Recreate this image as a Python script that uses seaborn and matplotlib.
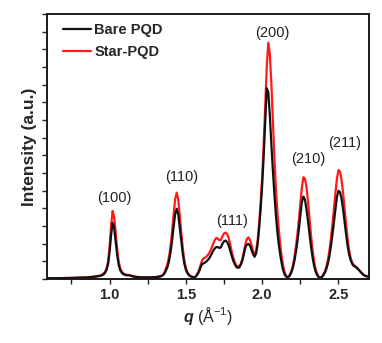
import numpy as np
import pandas as pd
import matplotlib
matplotlib.use("Agg")
import matplotlib.pyplot as plt
from matplotlib.ticker import MultipleLocator, NullFormatter
from matplotlib.lines import Line2D
import seaborn as sns

# ---------------- data ----------------
q = [
    0.59, 0.65, 0.70, 0.75, 0.80, 0.85, 0.88, 0.90, 0.92, 0.94,
    0.95, 0.96, 0.97, 0.98, 0.99, 1.00, 1.01, 1.02, 1.03, 1.04,
    1.05, 1.06, 1.07, 1.08, 1.09, 1.11, 1.13, 1.15, 1.18, 1.22,
    1.26, 1.30, 1.33, 1.35, 1.36, 1.37, 1.38, 1.39, 1.40, 1.41,
    1.42, 1.43, 1.44, 1.45, 1.46, 1.47, 1.48, 1.49, 1.50, 1.51,
    1.52, 1.53, 1.54, 1.55, 1.56, 1.57, 1.58, 1.59, 1.60, 1.61,
    1.62, 1.63, 1.64, 1.65, 1.66, 1.67, 1.68, 1.69, 1.70, 1.71,
    1.72, 1.73, 1.74, 1.75, 1.76, 1.77, 1.78, 1.79, 1.80, 1.81,
    1.82, 1.83, 1.84, 1.85, 1.86, 1.87, 1.88, 1.89, 1.90, 1.91,
    1.92, 1.93, 1.94, 1.95, 1.96, 1.97, 1.98, 1.99, 2.00, 2.01,
    2.02, 2.03, 2.04, 2.05, 2.06, 2.07, 2.08, 2.09, 2.10, 2.11,
    2.12, 2.13, 2.14, 2.15, 2.16, 2.17, 2.18, 2.19, 2.20, 2.21,
    2.22, 2.23, 2.24, 2.25, 2.26, 2.27, 2.28, 2.29, 2.30, 2.31,
    2.32, 2.33, 2.34, 2.35, 2.36, 2.37, 2.38, 2.39, 2.40, 2.41,
    2.42, 2.43, 2.44, 2.45, 2.46, 2.47, 2.48, 2.49, 2.50, 2.51,
    2.52, 2.53, 2.54, 2.55, 2.56, 2.57, 2.58, 2.59, 2.60, 2.61,
    2.62, 2.63, 2.64, 2.65, 2.66, 2.67, 2.68, 2.69, 2.70,
]

star_pqd = [
    0.3, 0.3, 0.35, 0.4, 0.5, 0.6, 0.8, 0.9, 1.1, 1.3,
    1.6, 2.0, 2.7, 4.0, 6.5, 12.0, 20.0, 25.7, 23.5, 17.5,
    11.0, 6.5, 4.0, 2.8, 2.1, 1.6, 1.5, 1.1, 0.8, 0.6,
    0.6, 0.7, 1.0, 1.6, 2.5, 4.0, 5.8, 8.6, 12.5, 18.1,
    24.5, 30.2, 32.6, 30.0, 24.0, 17.5, 11.5, 7.0, 4.2, 2.6,
    1.7, 1.2, 0.9, 0.7, 0.8, 1.5, 2.6, 4.0, 6.0, 7.5,
    7.9, 8.2, 8.8, 9.5, 10.6, 12.0, 13.5, 14.8, 15.5, 15.2,
    14.6, 14.8, 16.2, 17.2, 17.5, 17.0, 15.6, 13.2, 10.5, 8.2,
    6.4, 5.2, 4.6, 4.8, 5.8, 7.6, 10.2, 13.2, 15.2, 15.7,
    14.8, 12.8, 10.6, 9.2, 10.5, 14.5, 21.0, 29.0, 38.5, 51.0,
    66.0, 80.0, 89.2, 85.0, 74.0, 60.0, 46.0, 34.0, 25.0, 18.0,
    12.0, 7.5, 4.2, 2.0, 1.0, 0.8, 1.5, 2.8, 4.8, 7.8,
    11.8, 16.5, 22.0, 28.5, 34.5, 38.4, 37.8, 35.0, 29.5, 23.0,
    16.5, 11.0, 6.8, 3.8, 2.0, 0.9, 0.4, 0.8, 1.6, 2.8,
    4.5, 7.0, 10.5, 15.0, 20.5, 26.5, 32.5, 38.0, 41.1, 40.5,
    37.5, 32.5, 26.5, 20.5, 15.0, 10.8, 7.8, 6.2, 5.3, 4.9,
    4.4, 3.7, 3.0, 2.3, 1.7, 1.3, 1.0, 0.9, 0.8,
]

bare_pqd = [
    0.3, 0.3, 0.35, 0.4, 0.5, 0.55, 0.7, 0.8, 1.0, 1.2,
    1.4, 1.7, 2.3, 3.4, 5.5, 10.0, 16.5, 21.2, 19.3, 14.3,
    9.0, 5.3, 3.3, 2.4, 1.8, 1.4, 1.4, 1.0, 0.7, 0.6,
    0.6, 0.7, 0.9, 1.4, 2.1, 3.3, 4.6, 6.9, 10.2, 14.7,
    19.9, 24.5, 26.5, 24.4, 19.5, 14.3, 9.4, 5.8, 3.5, 2.2,
    1.4, 1.0, 0.8, 0.6, 0.7, 1.2, 2.1, 3.3, 5.0, 5.8,
    6.0, 6.4, 6.9, 7.6, 8.5, 9.6, 10.8, 11.6, 12.1, 12.0,
    11.7, 12.0, 13.4, 14.2, 14.5, 14.0, 12.8, 10.8, 8.8, 7.0,
    5.6, 4.6, 4.2, 4.4, 5.4, 7.0, 9.4, 12.0, 13.0, 13.2,
    12.6, 11.0, 9.4, 8.4, 9.6, 13.0, 19.0, 26.5, 35.5, 46.5,
    59.5, 72.0, 70.5, 62.0, 51.0, 41.0, 32.0, 24.0, 17.5, 12.5,
    8.5, 5.2, 2.8, 1.4, 0.8, 0.6, 1.2, 2.3, 4.0, 6.5,
    9.8, 13.8, 18.5, 24.0, 29.0, 31.1, 30.0, 26.5, 22.0, 17.0,
    12.2, 8.2, 5.0, 2.8, 1.5, 0.7, 0.4, 0.7, 1.3, 2.3,
    3.7, 5.7, 8.5, 12.2, 16.6, 21.5, 26.5, 31.0, 33.3, 32.8,
    30.3, 26.3, 21.5, 16.8, 12.4, 9.2, 7.0, 5.7, 4.9, 4.6,
    4.2, 3.6, 3.0, 2.4, 1.8, 1.4, 1.1, 1.0, 0.9,
]

series_names = ["Bare PQD", "Star-PQD"]
series_colors = ["#111111", "#ff1a1a"]

peak_labels = ["(100)", "(110)", "(111)", "(200)", "(210)", "(211)"]
peak_label_q = [1.033, 1.475, 1.80, 2.065, 2.30, 2.54]
peak_label_y = [30.6, 38.5, 22.0, 92.8, 45.3, 51.3]

x_major_ticks = [1.0, 1.5, 2.0, 2.5]

# ---------------- plotting ----------------
sns.set_theme(style="ticks")
plt.rcParams["font.family"] = ["Liberation Sans", "DejaVu Sans"]
plt.rcParams["mathtext.fontset"] = "custom"
plt.rcParams["mathtext.rm"] = "Liberation Sans"
plt.rcParams["mathtext.it"] = "Liberation Sans:italic"
plt.rcParams["mathtext.bf"] = "Liberation Sans:bold"
plt.rcParams["mathtext.bfit"] = "Liberation Sans:bold:italic"

df = pd.DataFrame({
    "q": q * 2,
    "I": bare_pqd + star_pqd,
    "sample": [series_names[0]] * len(q) + [series_names[1]] * len(q),
})

fig = plt.figure(figsize=(3.82, 3.43), dpi=100)
ax = fig.add_axes([0.123, 0.1866, 0.843, 0.7725])

palette = dict(zip(series_names, series_colors))
sns.lineplot(data=df, x="q", y="I", hue="sample",
             hue_order=[series_names[1], series_names[0]],
             palette=palette, sort=False, estimator=None,
             linewidth=1.6, ax=ax, legend=False)

ax.set_xlim(0.59, 2.70)
ax.set_ylim(0, 100)

ax.xaxis.set_minor_locator(MultipleLocator(0.25))
ax.set_xticks(x_major_ticks)
ax.set_xticklabels([f"{v:.1f}" for v in x_major_ticks],
                   fontweight="bold", fontsize=10.5)
ax.set_yticks(np.linspace(0, 100, 16))
ax.yaxis.set_major_formatter(NullFormatter())
ax.tick_params(axis="both", which="both", direction="out", length=3.5,
               width=1.0, color="#222222", pad=3)

for s in ax.spines.values():
    s.set_linewidth(1.4)
    s.set_color("#1a1a1a")

ax.set_xlabel(r"$\mathbfit{q}$ (Å$^{\mathregular{-1}}$)", fontsize=11.5,
              labelpad=2)
ax.set_ylabel("Intensity (a.u.)", fontsize=12.5, fontweight="bold",
              labelpad=1)

for lab, xq, yy in zip(peak_labels, peak_label_q, peak_label_y):
    ax.text(xq, yy, lab, ha="center", va="center", fontsize=10.5,
            color="#222222")

handles = [Line2D([], [], color=c, lw=1.6) for c in series_colors]
ax.legend(handles, series_names, loc="upper left",
          bbox_to_anchor=(0.05, 0.965), frameon=False,
          borderpad=0, borderaxespad=0, handlelength=1.9,
          handletextpad=0.25, labelspacing=0.55,
          prop={"weight": "bold", "size": 10.5})

fig.savefig("out.png", dpi=100)
